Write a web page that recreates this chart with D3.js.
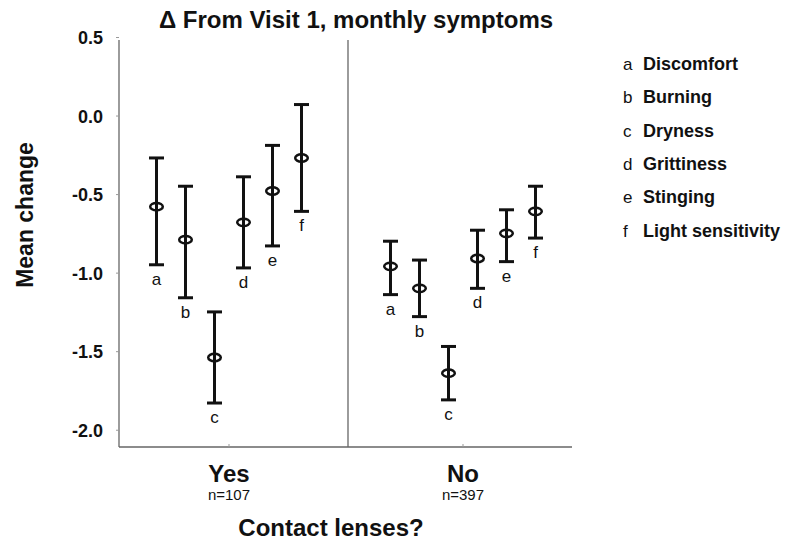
<!DOCTYPE html>
<html>
<head>
<meta charset="utf-8">
<script src="https://cdn.jsdelivr.net/npm/d3@7/dist/d3.min.js"></script>
<style>
  body { margin: 0; background: #fff; }
  svg text { font-family: "Liberation Sans", Arial, sans-serif; fill: #111; }
</style>
</head>
<body>
<div id="chart"></div>
<script>
// symptoms and their legend names
var symptoms = ["a", "b", "c", "d", "e", "f"];
var symptomNames = ["Discomfort", "Burning", "Dryness", "Grittiness", "Stinging", "Light sensitivity"];

// contact lens groups
var groups = ["Yes", "No"];
var groupN = ["n=107", "n=397"];

// mean change and 95% CI per group
var yesMean = [-0.58, -0.79, -1.54, -0.68, -0.48, -0.27];
var yesLow  = [-0.95, -1.16, -1.83, -0.97, -0.83, -0.61];
var yesHigh = [-0.27, -0.45, -1.25, -0.39, -0.19,  0.07];
var noMean  = [-0.96, -1.10, -1.64, -0.91, -0.75, -0.61];
var noLow   = [-1.14, -1.28, -1.81, -1.10, -0.93, -0.78];
var noHigh  = [-0.80, -0.92, -1.47, -0.73, -0.60, -0.45];

var yTicks = [0.5, 0.0, -0.5, -1.0, -1.5, -2.0];

var width = 785,
    height = 540;

var svg = d3.select("#chart")
    .append("svg")
    .attr("width", width)
    .attr("height", height);

var x = d3.scaleBand().domain(groups).range([112, 580]);
var xOff = d3.scalePoint().domain(symptoms).range([-72.5, 72.5]);
var y = d3.scaleLinear().domain([-2.11, 0.5]).range([447, 37]);

var axisColor = "#666";

// y axis
var yAxis = svg.append("g")
    .attr("transform", "translate(119,0)")
    .call(d3.axisLeft(y).tickValues(yTicks).tickSize(3).tickFormat(function(d) { return d.toFixed(1); }));
yAxis.select(".domain").attr("stroke", axisColor).attr("stroke-width", 1.3).attr("d", "M0," + (y(0.5) + 3) + "V447");
yAxis.selectAll(".tick line").attr("stroke", "#999");
yAxis.selectAll(".tick text")
    .attr("x", -16)
    .attr("dy", "0.36em")
    .style("font-size", "18px")
    .style("font-weight", "bold");

// x axis
var xAxis = svg.append("g")
    .attr("transform", "translate(0,447)")
    .call(d3.axisBottom(x).tickSize(-3).tickFormat(""));
xAxis.select(".domain").attr("stroke", axisColor).attr("stroke-width", 1.3).attr("d", "M119,0H572");
xAxis.selectAll(".tick line").attr("stroke", "#999");

// divider between groups
svg.append("line")
    .attr("x1", 348).attr("x2", 348)
    .attr("y1", y(0.5) + 3).attr("y2", 447)
    .attr("stroke", axisColor)
    .attr("stroke-width", 1.3);

// build rows
var rows = [];
groups.forEach(function(g, gi) {
    var m = gi == 0 ? yesMean : noMean,
        lo = gi == 0 ? yesLow : noLow,
        hi = gi == 0 ? yesHigh : noHigh;
    symptoms.forEach(function(s, i) {
        rows.push({group: g, sym: s, mean: m[i], low: lo[i], high: hi[i]});
    });
});

function cx(d) { return x(d.group) + x.bandwidth() / 2 + xOff(d.sym); }

var bars = svg.selectAll(".bar")
    .data(rows)
    .enter().append("g")
    .attr("class", "bar")
    .attr("stroke", "#111")
    .attr("stroke-width", 3)
    .attr("fill", "none");

bars.append("line")
    .attr("x1", cx).attr("x2", cx)
    .attr("y1", function(d) { return y(d.high); })
    .attr("y2", function(d) { return y(d.low); });

bars.append("line")
    .attr("x1", function(d) { return cx(d) - 7.5; })
    .attr("x2", function(d) { return cx(d) + 7.5; })
    .attr("y1", function(d) { return y(d.high); })
    .attr("y2", function(d) { return y(d.high); });

bars.append("line")
    .attr("x1", function(d) { return cx(d) - 7.5; })
    .attr("x2", function(d) { return cx(d) + 7.5; })
    .attr("y1", function(d) { return y(d.low); })
    .attr("y2", function(d) { return y(d.low); });

bars.append("ellipse")
    .attr("cx", cx)
    .attr("cy", function(d) { return y(d.mean); })
    .attr("rx", 6.3)
    .attr("ry", 3.7)
    .attr("stroke-width", 2.5);

svg.selectAll(".letter")
    .data(rows)
    .enter().append("text")
    .attr("class", "letter")
    .attr("x", cx)
    .attr("y", function(d) { return y(d.low) + 20; })
    .attr("text-anchor", "middle")
    .style("font-size", "17px")
    .text(function(d) { return d.sym; });

// group labels
groups.forEach(function(g, gi) {
    var c = x(g) + x.bandwidth() / 2;
    svg.append("text")
        .attr("x", c).attr("y", 482)
        .attr("text-anchor", "middle")
        .style("font-size", "24px").style("font-weight", "bold")
        .text(g);
    svg.append("text")
        .attr("x", c).attr("y", 500)
        .attr("text-anchor", "middle")
        .style("font-size", "15px")
        .text(groupN[gi]);
});

// titles
svg.append("text")
    .attr("x", 356).attr("y", 28)
    .attr("text-anchor", "middle")
    .style("font-size", "24px").style("font-weight", "bold")
    .text("\u0394 From Visit 1, monthly symptoms");

svg.append("text")
    .attr("x", 331).attr("y", 536)
    .attr("text-anchor", "middle")
    .style("font-size", "24px").style("font-weight", "bold")
    .text("Contact lenses?");

svg.append("text")
    .attr("transform", "translate(33,215) rotate(-90)")
    .attr("text-anchor", "middle")
    .style("font-size", "23px").style("font-weight", "bold")
    .text("Mean change");

// legend
var legend = svg.selectAll(".legend")
    .data(symptoms)
    .enter().append("g")
    .attr("class", "legend")
    .attr("transform", function(d, i) { return "translate(623," + (70 + i * 33.3) + ")"; });

legend.append("text")
    .style("font-size", "17px")
    .text(function(d) { return d; });

legend.append("text")
    .attr("x", 20)
    .style("font-size", "18px").style("font-weight", "bold")
    .text(function(d, i) { return symptomNames[i]; });
</script>
</body>
</html>
